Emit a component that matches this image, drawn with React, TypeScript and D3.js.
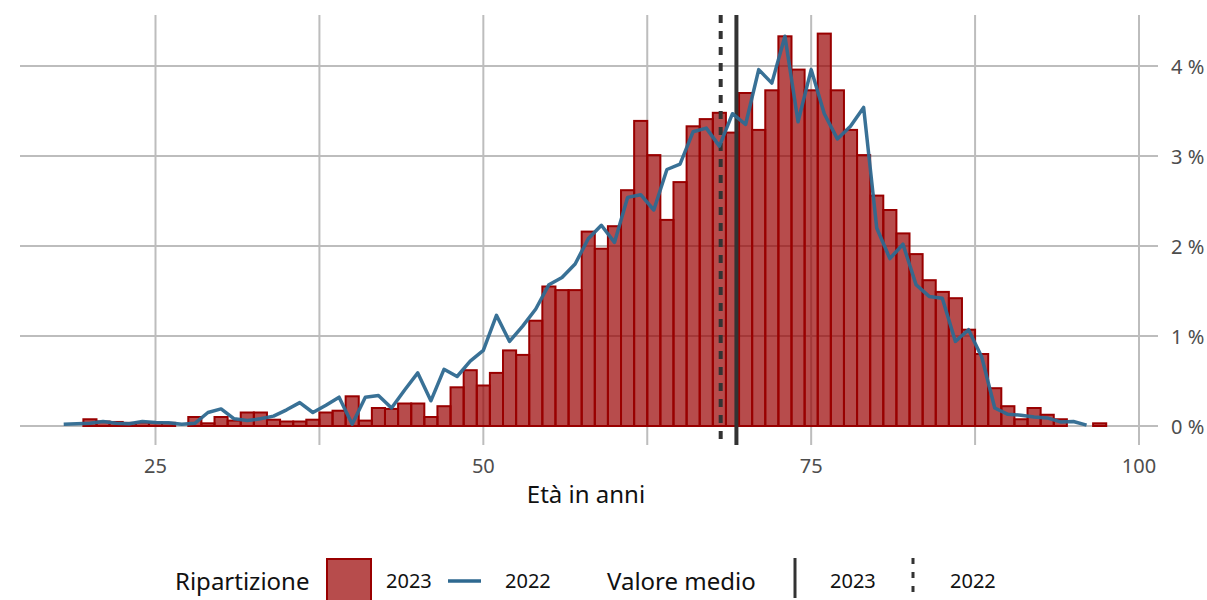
import React from "react";
import * as d3 from "d3";

// 2023 distribution (bars), % of total by age
const ages2023 = [20,21,22,23,24,25,26,27,28,29,30,31,32,33,34,35,36,37,38,39,40,41,42,43,44,45,46,47,48,49,50,51,52,53,54,55,56,57,58,59,60,61,62,63,64,65,66,67,68,69,70,71,72,73,74,75,76,77,78,79,80,81,82,83,84,85,86,87,88,89,90,91,92,93,94,95,96,97];
const share2023 = [0.075,0.05,0.045,0.035,0.04,0.04,0.035,0,0.10,0.03,0.10,0.06,0.15,0.15,0.07,0.05,0.05,0.07,0.15,0.17,0.33,0.06,0.20,0.19,0.25,0.25,0.10,0.22,0.43,0.62,0.45,0.59,0.84,0.79,1.17,1.55,1.51,1.51,2.16,1.97,2.22,2.62,3.39,3.01,2.29,2.71,3.33,3.41,3.48,3.26,3.70,3.29,3.73,4.33,3.96,3.73,4.36,3.73,3.29,3.01,2.56,2.40,2.14,1.91,1.62,1.49,1.42,1.07,0.80,0.42,0.22,0.075,0.20,0.125,0.075,0,0,0.03];

// 2022 distribution (line)
const ages2022 = [18,19,20,21,22,23,24,25,26,27,28,29,30,31,32,33,34,35,36,37,38,39,40,41,42,43,44,45,46,47,48,49,50,51,52,53,54,55,56,57,58,59,60,61,62,63,64,65,66,67,68,69,70,71,72,73,74,75,76,77,78,79,80,81,82,83,84,85,86,87,88,89,90,91,92,93,94,95,96];
const share2022 = [0.02,0.025,0.03,0.05,0.03,0.025,0.05,0.04,0.035,0.02,0.03,0.15,0.19,0.08,0.06,0.08,0.11,0.18,0.26,0.15,0.23,0.32,0.02,0.32,0.34,0.20,0.40,0.59,0.28,0.63,0.55,0.72,0.84,1.23,0.94,1.11,1.30,1.57,1.65,1.80,2.08,2.23,2.04,2.54,2.57,2.40,2.85,2.91,3.27,3.31,3.11,3.47,3.35,3.96,3.81,4.33,3.38,3.96,3.47,3.19,3.33,3.54,2.20,1.86,2.02,1.57,1.44,1.42,0.94,1.07,0.77,0.20,0.13,0.12,0.10,0.09,0.045,0.05,0.01];

const meanYears = ["2023", "2022"];
const meanValues = [69.3, 68.1];

const xTicks = [25, 50, 75, 100];
const xMinor = [37.5, 62.5, 87.5];
const yTicks = [0, 1, 2, 3, 4];

const W = 1207;
const H = 600;
const FONT = "'Noto Sans', 'Open Sans', sans-serif";
const RED = "#990000";
const BLUE = "#2E6990";
const GRID = "#bdbdbd";

export default function App() {
  const x = d3.scaleLinear().domain([25, 100]).range([155.5, 1139]);
  const y = d3.scaleLinear().domain([0, 4]).range([426, 66]);
  const top = 15;
  const bottom = 445;
  const left = 20;
  const right = 1158;
  const bw = x(1) - x(0);

  const line = d3
    .line<number>()
    .x((_, i) => x(ages2022[i]))
    .y((d) => y(d));

  return (
    <div style={{ position: "fixed", left: 0, top: 0 }}>
      <svg width={W} height={H} style={{ display: "block", background: "#fff" }}>
        {/* grid */}
        {yTicks.map((t) => (
          <line key={"gy" + t} x1={left} x2={right} y1={y(t)} y2={y(t)} stroke={GRID} strokeWidth={2} />
        ))}
        {xTicks.concat(xMinor).map((t) => (
          <line key={"gx" + t} x1={x(t)} x2={x(t)} y1={top} y2={bottom} stroke={GRID} strokeWidth={2} />
        ))}
        {/* bars */}
        {ages2023.map((a, i) =>
          share2023[i] > 0 ? (
            <rect
              key={"b" + a}
              x={x(a) - bw / 2}
              y={y(share2023[i])}
              width={bw}
              height={y(0) - y(share2023[i])}
              fill={RED}
              fillOpacity={0.7}
              stroke={RED}
              strokeWidth={2}
            />
          ) : null
        )}
        {/* means */}
        <line x1={x(meanValues[0])} x2={x(meanValues[0])} y1={top} y2={bottom} stroke="#333" strokeWidth={4} />
        <line x1={x(meanValues[1])} x2={x(meanValues[1])} y1={top} y2={bottom} stroke="#333" strokeWidth={4} strokeDasharray="8,8" />
        {/* 2022 line */}
        <path d={line(share2022) || ""} fill="none" stroke={BLUE} strokeWidth={3.5} strokeOpacity={0.95} strokeLinejoin="round" />
        {/* x labels */}
        {xTicks.map((t) => (
          <text key={"xl" + t} x={x(t)} y={473} textAnchor="middle" fontFamily={FONT} fontSize={20} fill="#4d4d4d">
            {t}
          </text>
        ))}
        {/* y labels */}
        {yTicks.map((t) => (
          <text key={"yl" + t} x={1171} y={y(t) + 8} textAnchor="start" fontFamily={FONT} fontSize={20} fill="#4d4d4d">
            {t + " %"}
          </text>
        ))}
        <text x={586} y={503} textAnchor="middle" fontFamily={FONT} fontSize={24} fill="#111">
          Età in anni
        </text>
        {/* legend */}
        <g fontFamily={FONT}>
          <text x={175} y={590} fontSize={24} fill="#111">Ripartizione</text>
          <rect x={327} y={559} width={44} height={44} fill={RED} fillOpacity={0.7} stroke={RED} strokeWidth={2} />
          <text x={386} y={588} fontSize={20} fill="#111">2023</text>
          <line x1={448} x2={481} y1={581} y2={581} stroke={BLUE} strokeWidth={3.5} />
          <text x={505} y={588} fontSize={20} fill="#111">2022</text>
          <text x={607} y={590} fontSize={24} fill="#111">Valore medio</text>
          <line x1={795} x2={795} y1={558} y2={598} stroke="#333" strokeWidth={3} />
          <text x={830} y={588} fontSize={20} fill="#111">{meanYears[0]}</text>
          <line x1={913} x2={913} y1={558} y2={602} stroke="#333" strokeWidth={3} strokeDasharray="6,8" />
          <text x={950} y={588} fontSize={20} fill="#111">{meanYears[1]}</text>
        </g>
      </svg>
    </div>
  );
}
